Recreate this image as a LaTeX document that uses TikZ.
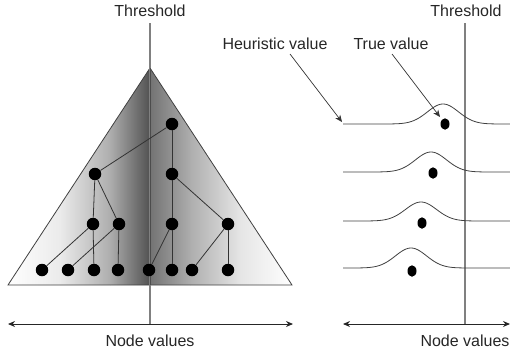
\documentclass[tikz,border=0pt]{standalone}
\usepackage{fontspec}
\setmainfont{Liberation Sans}
\usetikzlibrary{arrows.meta,shapes.geometric}
\begin{document}
\begin{tikzpicture}[x=1pt,y=-1pt,
  lbl/.style={font=\fontsize{16}{19}\selectfont, inner sep=0pt, text=black!85},
  dot/.style={circle, fill=black, inner sep=0pt, minimum size=12.5pt},
  tdot/.style={ellipse, fill=black, inner sep=0pt, minimum width=9pt, minimum height=11.5pt},
  edge/.style={black!80, line width=0.8pt},
  thr/.style={black!50, line width=1.2pt},
  curve/.style={black!75, line width=0.8pt},
  ptr/.style={black!80, line width=0.7pt, -{Stealth[length=7pt,width=6pt]}},
  axis/.style={black!85, line width=0.9pt, {Stealth[length=7pt,width=6pt]}-{Stealth[length=7pt,width=6pt]}}
]
\useasboundingbox (0,0) rectangle (510,351);
% ---------- left panel ----------
\coordinate (apex) at (150,68);
\coordinate (bl) at (8,285);
\coordinate (br) at (292,285);
\begin{scope}
  \clip (apex) -- (bl) -- (br) -- cycle;
  \shade[left color=white, right color=black!8] (7,60) rectangle (60.5,290);
  \shade[left color=black!8, right color=black!32] (60,60) rectangle (110.5,290);
  \shade[left color=black!32, right color=black!68] (110,60) rectangle (150,290);
  \shade[left color=black!55, right color=black!32] (150,60) rectangle (190.5,290);
  \shade[left color=black!32, right color=black!10] (190,60) rectangle (240.5,290);
  \shade[left color=black!10, right color=white] (240,60) rectangle (293,290);
\end{scope}
\draw[black!75, line width=0.8pt, line join=miter] (apex) -- (bl) -- (br) -- cycle;

\node[lbl] (thL) at (150,11) {Threshold};
\coordinate (thLtop) at (150,23);
\coordinate (thLbot) at (150,324);
\draw[thr] (thLtop) -- (thLbot);
\draw[black!70, line width=1pt] (apex) -- (150,285);

% tree nodes
\node[dot] (r)   at (172,124) {};
\node[dot] (a)   at (95,174) {};
\node[dot] (b)   at (172,174) {};
\node[dot] (a1)  at (93,224) {};
\node[dot] (a2)  at (119,224) {};
\node[dot] (b1)  at (172,224) {};
\node[dot] (b2)  at (228,224) {};
\node[dot] (l1)  at (42,270) {};
\node[dot] (l2)  at (68,270) {};
\node[dot] (l3)  at (94,270) {};
\node[dot] (l4)  at (118,270) {};
\node[dot] (l5)  at (149,270) {};
\node[dot] (l6)  at (172,270) {};
\node[dot] (l7)  at (192,270) {};
\node[dot] (l8)  at (228,270) {};
\draw[edge] (r) -- (a);
\draw[edge] (r) -- (b);
\draw[edge] (a) -- (a1);
\draw[edge] (a) -- (a2);
\draw[edge] (b) -- (b1);
\draw[edge] (b) -- (b2);
\draw[edge] (a1) -- (l1);
\draw[edge] (a1) -- (l3);
\draw[edge] (a2) -- (l2);
\draw[edge] (a2) -- (l4);
\draw[edge] (b1) -- (l5);
\draw[edge] (b1) -- (l6);
\draw[edge] (b2) -- (l7);
\draw[edge] (b2) -- (l8);

\coordinate (axL1) at (8,324);
\coordinate (axL2) at (293,324);
\draw[axis] (axL1) -- (axL2);
\node[lbl] (nvL) at (150,341) {Node values};

% ---------- right panel ----------
\node[lbl] (thR) at (466,11) {Threshold};
\coordinate (thRtop) at (465,23);
\coordinate (thRbot) at (465,324);
\draw[thr] (thRtop) -- (thRbot);

\draw[curve] plot[domain=343:510, samples=120] (\x, {124 - 20*exp(-((\x-443)/22)^2)});
\draw[curve] plot[domain=343:510, samples=120] (\x, {172 - 20*exp(-((\x-431)/22)^2)});
\draw[curve] plot[domain=343:510, samples=120] (\x, {221 - 19*exp(-((\x-421)/22)^2)});
\draw[curve] plot[domain=343:510, samples=120] (\x, {268 - 20*exp(-((\x-411)/22)^2)});

\node[tdot] (t1) at (445,124) {};
\node[tdot] (t2) at (433,173) {};
\node[tdot] (t3) at (422,223) {};
\node[tdot] (t4) at (412,271) {};

\node[lbl] (hv) at (275,44) {Heuristic value};
\node[lbl] (tv) at (391,44) {True value};
\coordinate (hvs) at (290,54);
\coordinate (hve) at (342,122);
\coordinate (tvs) at (392,54);
\coordinate (tve) at (440,117);
\draw[ptr] (hvs) -- (hve);
\draw[ptr] (tvs) -- (tve);

\coordinate (axR1) at (343,324);
\coordinate (axR2) at (510,324);
\draw[axis] (axR1) -- (axR2);
\node[lbl] (nvR) at (465,341) {Node values};
\end{tikzpicture}
\end{document}
